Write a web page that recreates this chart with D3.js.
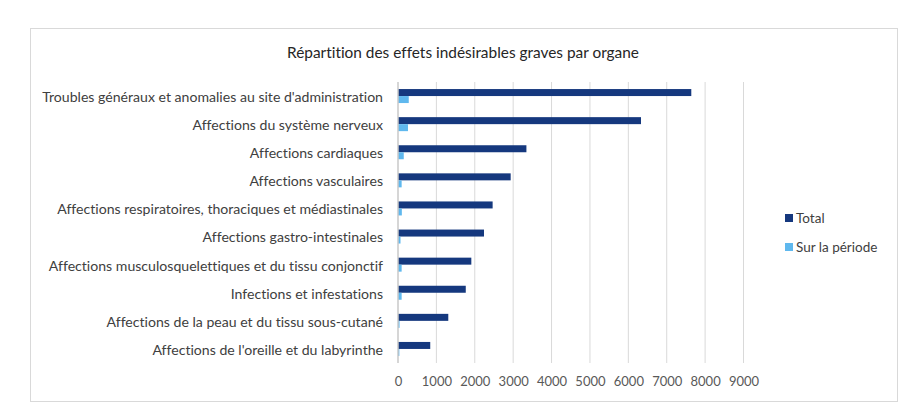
<!DOCTYPE html>
<html>
<head>
<meta charset="utf-8">
<script src="https://cdn.jsdelivr.net/npm/d3@7"></script>
<style>
  body { margin: 0; background: #fff; }
  text { font-family: Lato, "Open Sans", sans-serif; font-variant-ligatures: none; font-feature-settings: "liga" 0, "clig" 0; }
</style>
</head>
<body>
<svg id="chart" width="913" height="415"></svg>
<script>
const categories = [
  "Troubles généraux et anomalies au site d'administration",
  "Affections du système nerveux",
  "Affections cardiaques",
  "Affections vasculaires",
  "Affections respiratoires, thoraciques et médiastinales",
  "Affections gastro-intestinales",
  "Affections musculosquelettiques et du tissu conjonctif",
  "Infections et infestations",
  "Affections de la peau et du tissu sous-cutané",
  "Affections de l'oreille et du labyrinthe"
];
const total = [7640, 6330, 3345, 2935, 2465, 2240, 1910, 1765, 1310, 840];
const surPeriode = [280, 260, 150, 95, 100, 65, 95, 95, 40, 35];
const ticks = [0, 1000, 2000, 3000, 4000, 5000, 6000, 7000, 8000, 9000];
const seriesNames = ["Total", "Sur la période"];
const colors = ["#15387e", "#5fb8ee"];

const svg = d3.select('#chart');

// chart frame
svg.append('rect')
  .attr('x', 30.5).attr('y', 28.5)
  .attr('width', 867).attr('height', 373)
  .attr('fill', '#fff')
  .attr('stroke', '#d9d9d9');

svg.append('text')
  .attr('x', 463).attr('y', 58)
  .attr('text-anchor', 'middle')
  .attr('font-size', 15.4)
  .attr('fill', '#262626')
  .text('Répartition des effets indésirables graves par organe');

const x = d3.scaleLinear().domain([0, 9000]).range([398, 743.5]);
const y = d3.scaleBand().domain(categories).range([82, 363]);
const sub = d3.scaleBand().domain(seriesNames).range([y.bandwidth() / 2 - 7, y.bandwidth() / 2 + 7]);

// gridlines
svg.append('g')
  .selectAll('line')
  .data(ticks.slice(1))
  .join('line')
    .attr('x1', d => x(d)).attr('x2', d => x(d))
    .attr('y1', 82).attr('y2', 363)
    .attr('stroke', '#d9d9d9');

// x axis labels
const xAxis = svg.append('g')
  .attr('transform', 'translate(0,363)')
  .call(d3.axisBottom(x).tickValues(ticks).tickSize(0).tickPadding(14).tickFormat(d3.format('d')));
xAxis.select('.domain').remove();
xAxis.selectAll('text').attr('font-size', 13).attr('fill', '#595959').attr('font-family', 'Lato, sans-serif');

// bars
const rows = categories.map((c, i) => ({ cat: c, values: [total[i], surPeriode[i]] }));
const groups = svg.append('g')
  .selectAll('g')
  .data(rows)
  .join('g')
    .attr('transform', d => `translate(0,${y(d.cat)})`);

groups.selectAll('rect')
  .data(d => d.values.map((v, j) => ({ key: seriesNames[j], v })))
  .join('rect')
    .attr('x', x(0))
    .attr('y', d => sub(d.key))
    .attr('height', sub.bandwidth())
    .attr('width', d => x(d.v) - x(0))
    .attr('fill', (d, j) => colors[j]);

// vertical axis line
svg.append('line')
  .attr('x1', 398).attr('x2', 398)
  .attr('y1', 82).attr('y2', 363)
  .attr('stroke', '#c8c8c8').attr('stroke-width', 1.5);

// category labels
svg.append('g')
  .selectAll('text')
  .data(categories)
  .join('text')
    .attr('x', 383)
    .attr('y', d => y(d) + y.bandwidth() / 2 + 1)
    .attr('dy', '0.35em')
    .attr('text-anchor', 'end')
    .attr('font-size', 14.1)
    .attr('fill', '#404040')
    .text(d => d);

// legend
const legend = svg.append('g')
  .attr('transform', 'translate(785,210)');

legend.selectAll('rect')
  .data(seriesNames)
  .join('rect')
    .attr('x', 0)
    .attr('y', (d, i) => i * 29 + 4)
    .attr('width', 8)
    .attr('height', 8)
    .attr('fill', (d, i) => colors[i]);

legend.selectAll('text')
  .data(seriesNames)
  .join('text')
    .attr('x', 11)
    .attr('y', (d, i) => i * 29 + 8)
    .attr('dy', '0.35em')
    .attr('font-size', 13.5)
    .attr('fill', '#404040')
    .text(d => d);
</script>
</body>
</html>
